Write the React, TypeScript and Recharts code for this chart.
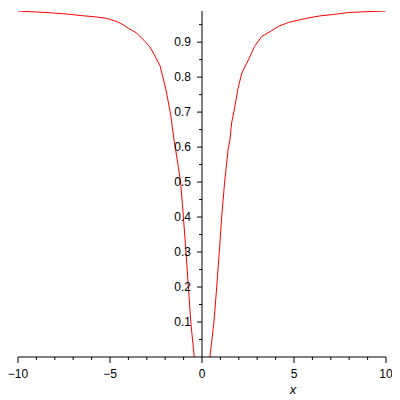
import React from 'react';
import { LineChart, Line, XAxis, YAxis, ReferenceLine } from 'recharts';

const leftX = [-10, -8.93, -8.03, -7.27, -6.41, -5.91, -5.18, -4.64, -4.36, -4.01, -3.55, -3.1, -2.84, -2.55, -2.28, -1.96, -1.7, -1.52, -1.43, -1.16, -1.01, -0.87, -0.74, -0.61, -0.42];
const leftY = [0.989, 0.986, 0.983, 0.98, 0.975, 0.973, 0.968, 0.959, 0.952, 0.94, 0.926, 0.902, 0.887, 0.86, 0.832, 0.764, 0.692, 0.62, 0.592, 0.5, 0.4, 0.3, 0.2, 0.1, 0];
const rightX = [0.43, 0.65, 0.8, 0.94, 1.07, 1.23, 1.43, 1.52, 1.61, 1.79, 1.94, 2.16, 2.52, 2.86, 3.24, 3.7, 4.15, 4.69, 5.33, 5.87, 6.41, 7.14, 8.04, 8.95, 10];
const rightY = [0, 0.1, 0.2, 0.3, 0.4, 0.5, 0.597, 0.62, 0.669, 0.716, 0.764, 0.811, 0.849, 0.888, 0.916, 0.93, 0.945, 0.956, 0.964, 0.97, 0.975, 0.979, 0.985, 0.987, 0.989];

const xTicks = [-10, -9, -8, -7, -6, -5, -4, -3, -2, -1, 0, 1, 2, 3, 4, 5, 6, 7, 8, 9, 10];
const yMajor = [0.1, 0.2, 0.3, 0.4, 0.5, 0.6, 0.7, 0.8, 0.9];
const yMinor = [0.05, 0.15, 0.25, 0.35, 0.45, 0.55, 0.65, 0.75, 0.85, 0.95];

const leftData = leftX.map((x, i) => ({ x, y: leftY[i] }));
const rightData = rightX.map((x, i) => ({ x, y: rightY[i] }));

const FONT = '"Liberation Sans", Arial, sans-serif';

const XTick = (props: any) => {
  const { x, y, payload } = props;
  const v = payload.value as number;
  const major = v % 5 === 0;
  const label = v < 0 ? '\u2212' + Math.abs(v) : String(v);
  return (
    <g>
      <line x1={x} y1={y} x2={x} y2={y + (major ? 6 : 3)} stroke="#000" strokeWidth={1} />
      {major && (
        <text x={x} y={y + 21} textAnchor="middle" fontSize={12} fontFamily={FONT} fill="#000">
          {label}
        </text>
      )}
    </g>
  );
};

export default function App() {
  return (
    <LineChart width={392} height={392} margin={{ top: 3, right: 14, left: 10, bottom: 0 }}>
      <XAxis
        dataKey="x"
        type="number"
        domain={[-10, 10]}
        ticks={xTicks}
        interval={0}
        tickSize={0}
        tickMargin={0}
        tickLine={false}
        tick={<XTick />}
        height={43}
        axisLine={{ stroke: '#000' }}
        allowDataOverflow
        label={{ value: 'x', position: 'insideBottom', dx: 91, offset: 6, fontStyle: 'italic', fontSize: 13, fontFamily: FONT, fill: '#000' }}
      />
      <YAxis type="number" domain={[0, 0.989]} hide allowDataOverflow />
      <ReferenceLine x={0} stroke="#000" />
      {yMajor.map((v) => (
        <ReferenceLine
          key={'M' + v}
          segment={[{ x: -0.27, y: v }, { x: 0, y: v }]}
          stroke="#000"
          label={{ value: v.toFixed(1), position: 'left', offset: 6, fontSize: 12, fontFamily: FONT, fill: '#000' }}
        />
      ))}
      {yMinor.map((v) => (
        <ReferenceLine key={'m' + v} segment={[{ x: -0.16, y: v }, { x: 0, y: v }]} stroke="#000" />
      ))}
      <Line data={leftData} dataKey="y" stroke="#ff0000" strokeWidth={1} dot={false} isAnimationActive={false} />
      <Line data={rightData} dataKey="y" stroke="#ff0000" strokeWidth={1} dot={false} isAnimationActive={false} />
    </LineChart>
  );
}
